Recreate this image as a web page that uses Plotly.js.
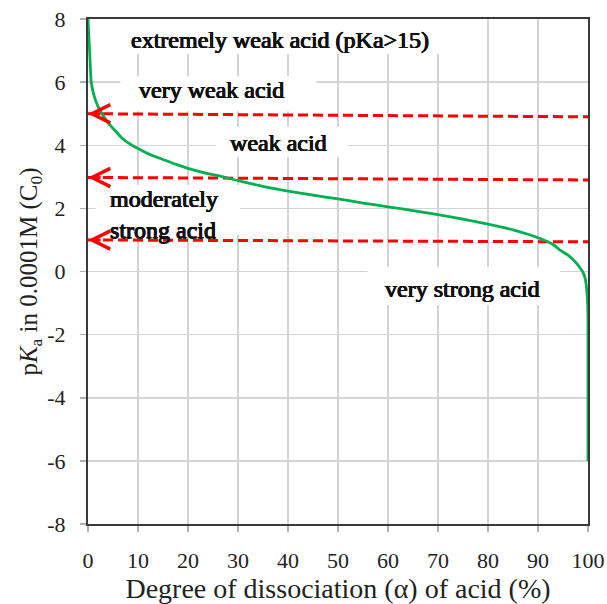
<!DOCTYPE html>
<html>
<head>
<meta charset="utf-8">
<script src="https://cdn.plot.ly/plotly-3.0.1.min.js"></script>
<style>
html,body{margin:0;padding:0;background:#fff;}
#chart{width:607px;height:604px;}
</style>
</head>
<body>
<div id="chart"></div>
<script>
// Degree of dissociation (%) and pKa
var alphaPct = [0, 0.15, 0.35, 0.64, 1.0, 1.5, 2.1, 2.8, 4, 5.5, 7, 8.8, 10, 12.5, 15, 17.5, 20, 23.5, 27, 30, 35, 40, 45, 50, 55, 60, 65, 70, 75, 80, 85, 88, 90, 92, 93.5, 94.4, 96, 97, 98, 98.9, 99.4, 99.7, 99.9, 100, 100];
var pKa      = [8, 7.5, 6.9, 6.0, 5.7, 5.43, 5.2, 5.0, 4.72, 4.45, 4.2, 4.0, 3.9, 3.7, 3.55, 3.4, 3.27, 3.12, 3.0, 2.88, 2.7, 2.55, 2.42, 2.3, 2.17, 2.05, 1.93, 1.8, 1.66, 1.5, 1.32, 1.18, 1.07, 0.94, 0.8, 0.68, 0.52, 0.38, 0.2, 0.0, -0.2, -0.5, -0.9, -1.5, -6];

// Red dashed boundary lines (pKa at left and right ends)
var boundaryX      = [0, 100];
var boundaryLeftY  = [5.0, 2.98, 1.0];
var boundaryRightY = [4.9, 2.9, 0.94];

// Region labels
var labelTexts = ['extremely weak acid (pKa>15)', 'very weak acid', 'weak acid', 'moderately<br>strong acid', 'very strong acid'];
var labelX     = [38.4, 24.7, 38.1, 3.9, 74.9];
var labelY     = [7.35, 5.75, 4.07, 1.82, -0.55];

var xTickVals = [0,10,20,30,40,50,60,70,80,90,100];
var xTickText = ['0','10','20','30','40','50','60','70','80','90','100'];
var yTickVals = [-8,-6,-4,-2,0,2,4,6,8];
var yTickText = ['-8','-6','-4','-2','0','2','4','6','8'];

var serif = 'Liberation Serif';
var fauxBold = '0.55px 0 0 #111111, -0.45px 0 0 #111111, 0 0.4px 0 #111111, 0 -0.2px 0 #111111';

var traces = [];
for (var i = 0; i < boundaryLeftY.length; i++) {
  traces.push({
    type: 'scatter', mode: 'lines',
    x: boundaryX, y: [boundaryLeftY[i], boundaryRightY[i]],
    line: {color: '#ff0000', width: 3, dash: '10px,5px'},
    hoverinfo: 'skip', showlegend: false, cliponaxis: false
  });
}
traces.push({
  type: 'scatter', mode: 'lines',
  x: alphaPct, y: pKa,
  line: {color: '#00b050', width: 2.8, shape: 'spline', smoothing: 0.6},
  showlegend: false
});

var annotations = [];
for (var j = 0; j < boundaryLeftY.length; j++) {
  annotations.push({
    x: 0, y: boundaryLeftY[j], xref: 'x', yref: 'y',
    ax: 2.8, ay: boundaryLeftY[j], axref: 'x', ayref: 'y',
    text: '', showarrow: true, arrowhead: 5, arrowsize: 1.2,
    arrowwidth: 3, arrowcolor: '#ff0000', standoff: 0, startstandoff: 0
  });
}
for (var k = 0; k < labelTexts.length; k++) {
  annotations.push({
    x: labelX[k], y: labelY[k], xref: 'x', yref: 'y',
    text: labelTexts[k], showarrow: false,
    xanchor: k === 3 ? 'left' : 'center', align: 'left', yanchor: 'middle',
    font: {family: serif, size: 24, color: '#111111', shadow: fauxBold}
  });
}

// white text boxes (cover gridlines only)
var boxes = [
  [3.5, 74.4, 6.89, 8.0],
  [6.5, 45.7, 5.08, 6.19],
  [25.5, 51.9, 3.63, 4.58],
  [1.5, 30.4, 1.16, 2.74],
  [55.9, 94.4, -1.06, 0.14]
];
var shapes = boxes.map(function (b) {
  return {type: 'rect', xref: 'x', yref: 'y', x0: b[0], x1: b[1], y0: b[2], y1: b[3],
          fillcolor: '#ffffff', line: {width: 0}, layer: 'between'};
});

function axisBase() {
  return {
    showgrid: true, gridcolor: '#d4d4d4', gridwidth: 1.5,
    zeroline: false, showline: true, linecolor: '#3a3a3a', linewidth: 2, mirror: true,
    ticks: 'outside', ticklen: 6, tickwidth: 1.5, tickcolor: '#b0b0b0',
    tickfont: {family: serif, size: 22, color: '#222222'}
  };
}

var layout = {
  width: 607, height: 604,
  font: {family: serif, size: 22, color: '#222222'},
  margin: {l: 88, r: 19, t: 19, b: 80},
  paper_bgcolor: '#ffffff', plot_bgcolor: '#ffffff',
  showlegend: false,
  xaxis: Object.assign(axisBase(), {
    range: [0, 100], tickvals: xTickVals, ticktext: xTickText, ticklabelstandoff: 10,
    title: {text: 'Degree of dissociation (α) of acid (%)', font: {family: serif, size: 28, color: '#222222'}, standoff: 8}
  }),
  yaxis: Object.assign(axisBase(), {
    range: [-8, 8], tickvals: yTickVals, ticktext: yTickText, ticklabelstandoff: 10,
    title: {text: 'p<i>K</i><sub>a</sub> in 0.0001M (C<sub>0</sub>)', font: {family: serif, size: 25, color: '#222222'}, standoff: 3}
  }),
  annotations: annotations,
  shapes: shapes
};

Plotly.newPlot('chart', traces, layout, {displayModeBar: false, staticPlot: true});
</script>
</body>
</html>
